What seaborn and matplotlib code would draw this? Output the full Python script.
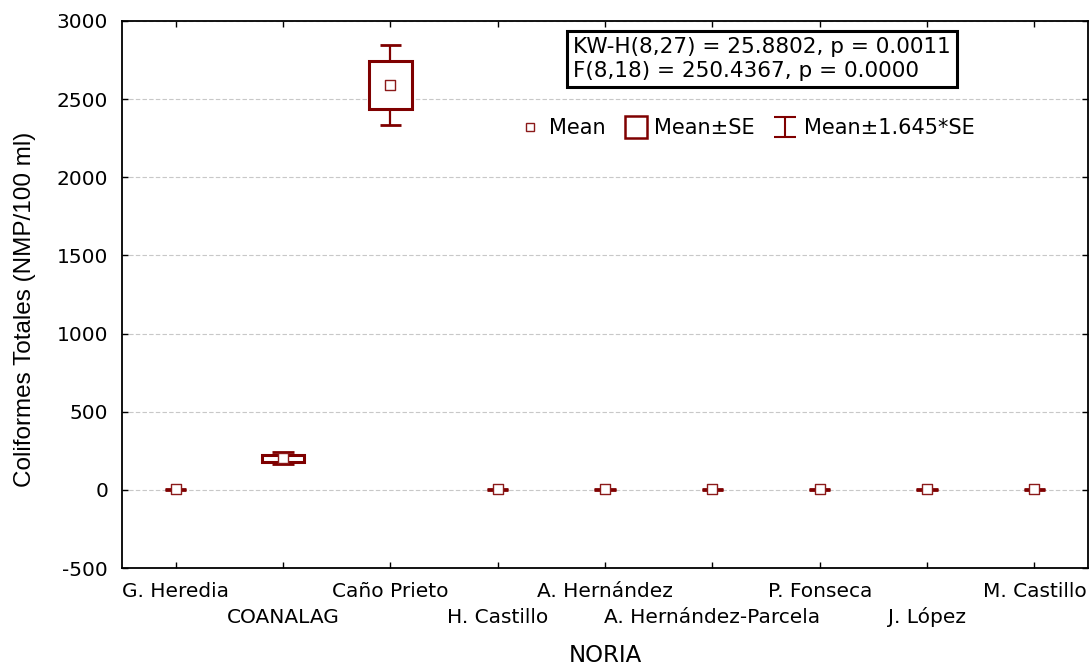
import matplotlib
matplotlib.use("Agg")
import matplotlib.pyplot as plt
from matplotlib.lines import Line2D
from matplotlib.path import Path
import numpy as np
import pandas as pd
import seaborn as sns

# Site names along the x axis
sites = ["G. Heredia", "COANALAG", "Caño Prieto", "H. Castillo", "A. Hernández",
         "A. Hernández-Parcela", "P. Fonseca", "J. López", "M. Castillo"]
# Mean total coliforms per site (NMP/100 ml) and standard error
means = [3, 202, 2590, 3, 3, 3, 3, 3, 3]
se = [1, 24, 155, 1, 1, 1, 1, 1, 1]
y_ticks = [-500, 0, 500, 1000, 1500, 2000, 2500, 3000]
stats_text = "KW-H(8,27) = 25.8802, p = 0.0011\nF(8,18) = 250.4367, p = 0.0000"

sns.set_theme(style="ticks")
plt.rcParams["font.family"] = ["DejaVu Sans"]
plt.rcParams["axes.unicode_minus"] = False
for key in ("text.color", "axes.labelcolor", "xtick.color", "ytick.color",
            "xtick.labelcolor", "ytick.labelcolor"):
    plt.rcParams[key] = "black"

dark_red = "#7f0000"
mean_edge = "#8b1a1a"
df = pd.DataFrame({"site": sites, "pos": np.arange(len(sites)),
                   "mean": means, "se": se})
df["lo_se"] = df["mean"] - df["se"]
df["hi_se"] = df["mean"] + df["se"]
df["lo_ci"] = df["mean"] - 1.645 * df["se"]
df["hi_ci"] = df["mean"] + 1.645 * df["se"]

fig = plt.figure(figsize=(10.91, 6.68), dpi=100)
ax = fig.add_axes([0.1118, 0.1497, 0.8855, 0.8189])

ax.set_xlim(-0.5, len(sites) - 0.5)
ax.set_ylim(-500, 3000)
ax.set_yticks(y_ticks)
ax.yaxis.grid(True, linestyle=(0, (4, 2)), color="#c8c8c8", linewidth=0.8)
ax.set_axisbelow(True)

# Whiskers: mean ± 1.645*SE with caps
ax.vlines(df["pos"], df["lo_ci"], df["hi_ci"], color=dark_red, linewidth=1.6, zorder=2)
ax.hlines(df["lo_ci"], df["pos"] - 0.1, df["pos"] + 0.1, color=dark_red, linewidth=2.0, zorder=2)
ax.hlines(df["hi_ci"], df["pos"] - 0.1, df["pos"] + 0.1, color=dark_red, linewidth=2.0, zorder=2)

# Boxes: mean ± SE (only where tall enough to be visible)
visible = df[df["hi_se"] - df["lo_se"] > 10]
ax.bar(visible["pos"], visible["hi_se"] - visible["lo_se"], bottom=visible["lo_se"],
       width=0.40, facecolor="white", edgecolor=dark_red, linewidth=2.2, zorder=3)

# Mean markers
sns.scatterplot(data=df, x="pos", y="mean", marker="s", s=50, facecolor="white",
                edgecolor=mean_edge, linewidth=1.0, zorder=4, ax=ax, legend=False)

ax.set_xticks(df["pos"])
ax.set_xticklabels(sites, fontsize=14.5, va="baseline")
ax.tick_params(axis="both", direction="in", length=4, width=1, color="black",
               top=True, right=True, labelsize=14.5)
ax.tick_params(axis="y", pad=10)
# Stagger the site names on two rows
for i, tick in enumerate(ax.xaxis.get_major_ticks()):
    tick.set_pad(39.5 if i % 2 else 21.0)
for sp in ax.spines.values():
    sp.set_linewidth(1.3)
    sp.set_color("black")

ax.set_xlabel("NORIA", fontsize=16.5)
ax.xaxis.set_label_coords(0.5, -0.139)
ax.set_ylabel("Coliformes Totales (NMP/100 ml)", fontsize=17.5,
              family=["Liberation Sans", "DejaVu Sans"])
ax.yaxis.set_label_coords(-0.089, 0.472)

# Test statistics box
ax.text(0.4669, 0.9707, stats_text, transform=ax.transAxes, ha="left", va="top",
        fontsize=15.5, linespacing=1.22,
        bbox=dict(boxstyle="square,pad=0.28", facecolor="white", edgecolor="black",
                  linewidth=2.2))

# Legend
ibeam = Path([(-1, -0.9), (1, -0.9), (0, -0.9), (0, 0.9), (-1, 0.9), (1, 0.9)],
             [Path.MOVETO, Path.LINETO, Path.MOVETO, Path.LINETO, Path.MOVETO, Path.LINETO])
handles = [
    Line2D([], [], linestyle="none", marker="s", markersize=6, markerfacecolor="white",
           markeredgecolor=mean_edge, markeredgewidth=1.0),
    Line2D([], [], linestyle="none", marker="s", markersize=15.5, markerfacecolor="white",
           markeredgecolor=dark_red, markeredgewidth=1.8),
    Line2D([], [], linestyle="none", marker=ibeam, markersize=16, markerfacecolor="none",
           markeredgecolor=dark_red, markeredgewidth=1.5),
]
ax.legend(handles, ["Mean", "Mean±SE", "Mean±1.645*SE"], loc="center",
          bbox_to_anchor=(0.646, 0.804), ncol=3, frameon=False, fontsize=15,
          handlelength=1.2, handletextpad=0.3, columnspacing=0.85)

fig.savefig("out.png", dpi=100)
